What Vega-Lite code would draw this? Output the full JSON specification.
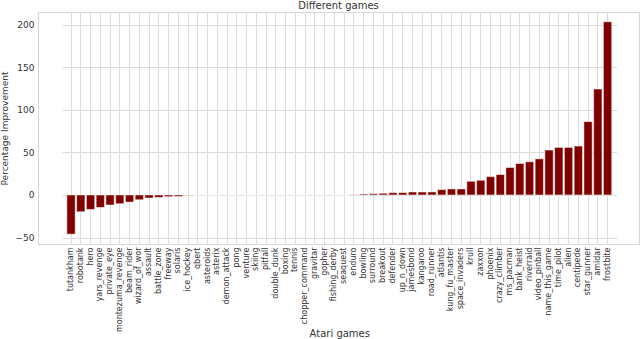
{
  "$schema": "https://vega.github.io/schema/vega-lite/v6.json",
  "autosize": "none",
  "width": 601,
  "height": 232,
  "padding": {"left": 38, "top": 12, "right": 1, "bottom": 95},
  "background": "white",
  "title": {"text": "Different games", "fontSize": 10, "font": "DejaVu Sans", "fontWeight": "normal", "color": "#333333", "offset": 1},
  "config": {
    "font": "DejaVu Sans",
    "view": {"stroke": "#d5d5d5", "strokeWidth": 1}
  },
  "data": {"values": [
    {"game": "tutankham", "value": -46},
    {"game": "robotank", "value": -19.7},
    {"game": "hero", "value": -17},
    {"game": "yars_revenge", "value": -14.6},
    {"game": "private_eye", "value": -11.8},
    {"game": "montezuma_revenge", "value": -10.3},
    {"game": "beam_rider", "value": -8.3},
    {"game": "wizard_of_wor", "value": -5.6},
    {"game": "assault", "value": -3.6},
    {"game": "battle_zone", "value": -2.8},
    {"game": "freeway", "value": -2},
    {"game": "solaris", "value": -1.8},
    {"game": "ice_hockey", "value": -0.3},
    {"game": "qbert", "value": 0},
    {"game": "asteroids", "value": 0},
    {"game": "asterix", "value": 0},
    {"game": "demon_attack", "value": 0},
    {"game": "pong", "value": 0},
    {"game": "venture", "value": 0},
    {"game": "skiing", "value": 0},
    {"game": "pitfall", "value": 0},
    {"game": "double_dunk", "value": 0},
    {"game": "boxing", "value": 0},
    {"game": "tennis", "value": 0},
    {"game": "chopper_command", "value": 0},
    {"game": "gravitar", "value": 0},
    {"game": "gopher", "value": 0},
    {"game": "fishing_derby", "value": 0},
    {"game": "seaquest", "value": 0},
    {"game": "enduro", "value": 0.4},
    {"game": "bowling", "value": 1.1},
    {"game": "surround", "value": 1.5},
    {"game": "breakout", "value": 2},
    {"game": "defender", "value": 2.7},
    {"game": "up_n_down", "value": 2.8},
    {"game": "jamesbond", "value": 3.5},
    {"game": "kangaroo", "value": 3.5},
    {"game": "road_runner", "value": 3.6},
    {"game": "atlantis", "value": 6.3},
    {"game": "kung_fu_master", "value": 7.1},
    {"game": "space_invaders", "value": 7.1},
    {"game": "krull", "value": 16.1},
    {"game": "zaxxon", "value": 17.3},
    {"game": "phoenix", "value": 21.6},
    {"game": "crazy_climber", "value": 24},
    {"game": "ms_pacman", "value": 32.3},
    {"game": "bank_heist", "value": 37},
    {"game": "riverraid", "value": 39},
    {"game": "video_pinball", "value": 42.5},
    {"game": "name_this_game", "value": 52.8},
    {"game": "time_pilot", "value": 55.9},
    {"game": "alien", "value": 55.9},
    {"game": "centipede", "value": 57.5},
    {"game": "star_gunner", "value": 86.2},
    {"game": "amidar", "value": 124.4},
    {"game": "frostbite", "value": 203.5}
  ]},
  "mark": {"type": "bar", "color": "#800000", "stroke": "white", "strokeWidth": 0.5},
  "encoding": {
    "x": {
      "field": "game", "type": "nominal", "sort": null,
      "scale": {"paddingInner": 0.15, "paddingOuter": 0.5, "range": [24, 578.6]},
      "axis": {
        "title": "Atari games", "titleFontSize": 10, "titleFontWeight": "normal", "titleColor": "#333333",
        "titleY": 84, "titleBaseline": "top",
        "labelAngle": -90, "labelFontSize": 8, "labelColor": "#333333", "labelPadding": 3,
        "domain": false, "ticks": false, "grid": true, "gridColor": "#dcdcdc", "gridWidth": 1,
        "bandPosition": 0.5
      }
    },
    "y": {
      "field": "value", "type": "quantitative",
      "scale": {"domain": [-57.6, 215], "nice": false, "zero": false},
      "axis": {
        "title": "Percentage Improvement", "titleFontSize": 9, "titleFontWeight": "normal", "titleColor": "#333333", "titlePadding": 6,
        "values": [-50, 0, 50, 100, 150, 200], "labelFontSize": 9, "labelColor": "#333333", "labelPadding": 4,
        "domain": false, "ticks": false, "grid": true, "gridColor": "#dcdcdc", "gridWidth": 1.2
      }
    }
  }
}
